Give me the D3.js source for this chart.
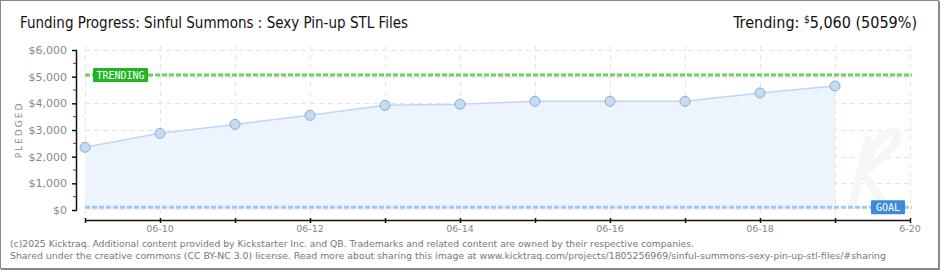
<!DOCTYPE html>
<html>
<head>
<meta charset="utf-8">
<script src="https://cdn.jsdelivr.net/npm/d3@7"></script>
<style>
  body { margin: 0; background: #fff; }
  svg { display: block; }
  .axis text { font-family: "DejaVu Sans", sans-serif; fill: #888; }
  .footer { font-family: "DejaVu Sans Condensed", "DejaVu Sans", sans-serif; font-size: 9.5px; fill: #777; }
</style>
</head>
<body>
<svg id="chart"></svg>
<script>
// data
const days = ["2025-06-09","2025-06-10","2025-06-11","2025-06-12","2025-06-13","2025-06-14",
              "2025-06-15","2025-06-16","2025-06-17","2025-06-18","2025-06-19"];
const pledged = [2350, 2875, 3210, 3550, 3925, 3965, 4075, 4075, 4075, 4390, 4650];
const trending = 5060;
const goal = 100;
const yTicks = [0, 1000, 2000, 3000, 4000, 5000, 6000];
const xTickLabels = ["06-10","06-12","06-14","06-16","06-18","6-20"];
const xTickDays = ["2025-06-10","2025-06-12","2025-06-14","2025-06-16","2025-06-18","2025-06-20"];

const W = 940, H = 270;
const parse = d3.timeParse("%Y-%m-%d");
const data = days.map((d, i) => ({date: parse(d), v: pledged[i]}));

const svg = d3.select("#chart").attr("width", W).attr("height", H);

// frame
svg.append("rect").attr("x", 0.5).attr("y", 0.5).attr("width", W - 2).attr("height", H - 2)
    .attr("fill", "#fff").attr("stroke", "#8a8a8a");
svg.append("line").attr("x1", W - 1).attr("x2", W - 1).attr("y1", 1).attr("y2", H).attr("stroke", "#8a8a8a").attr("stroke-width", 2);
svg.append("line").attr("x1", 1).attr("x2", W).attr("y1", H - 1).attr("y2", H - 1).attr("stroke", "#8a8a8a").attr("stroke-width", 2);

const x = d3.scaleTime()
    .domain([parse("2025-06-09"), parse("2025-06-20")])
    .range([85, 910]);
const y = d3.scaleLinear().domain([0, 6000]).range([210, 50]);

// grid
const allDays = d3.timeDay.range(parse("2025-06-09"), d3.timeDay.offset(parse("2025-06-20"), 1));
svg.append("g").selectAll("line").data(allDays).join("line")
    .attr("x1", d => x(d) + 0.5).attr("x2", d => x(d) + 0.5)
    .attr("y1", 46).attr("y2", 214)
    .attr("stroke", "#e4e4e4").attr("stroke-dasharray", "5,4");
svg.append("g").selectAll("line").data(yTicks.slice(1)).join("line")
    .attr("x1", 85).attr("x2", 912)
    .attr("y1", d => Math.round(y(d)) + 0.5).attr("y2", d => Math.round(y(d)) + 0.5)
    .attr("stroke", "#e4e4e4").attr("stroke-dasharray", "5,4");

// faint logo watermark (shape, not text)
svg.append("path")
    .attr("d", "M868,140 L852,205 M860,175 C880,160 905,140 895,132 C885,128 870,150 862,172 L885,205")
    .attr("fill", "none").attr("stroke", "#f6f6f6").attr("stroke-width", 8).attr("stroke-linecap", "round");

// area + line
svg.append("path").datum(data)
    .attr("d", d3.area().x(d => x(d.date)).y0(y(0)).y1(d => y(d.v)))
    .attr("fill", "#edf4fd");
svg.append("path").datum(data)
    .attr("d", d3.line().x(d => x(d.date)).y(d => y(d.v)))
    .attr("fill", "none").attr("stroke", "#bcd7f3").attr("stroke-width", 1.5);

// trending line
svg.append("line")
    .attr("x1", 85).attr("x2", 912)
    .attr("y1", y(trending)).attr("y2", y(trending))
    .attr("stroke", "#6fcf66").attr("stroke-width", 3).attr("stroke-dasharray", "5,2");
// goal line
svg.append("line")
    .attr("x1", 85).attr("x2", 912)
    .attr("y1", y(goal)).attr("y2", y(goal))
    .attr("stroke", "#a2c7ee").attr("stroke-width", 3).attr("stroke-dasharray", "5,2");

// points
svg.append("g").selectAll("circle").data(data).join("circle")
    .attr("cx", d => x(d.date)).attr("cy", d => y(d.v)).attr("r", 5)
    .attr("fill", "#c3dcf6").attr("stroke", "#92a9c6").attr("stroke-width", 1);

// labels on the lines
const tr = svg.append("g").attr("transform", `translate(93,${y(trending) - 7})`);
tr.append("rect").attr("width", 55).attr("height", 14).attr("rx", 1).attr("fill", "#1fb51f");
tr.append("text").attr("x", 27.5).attr("y", 10.5).attr("text-anchor", "middle")
    .attr("font-family", "DejaVu Sans Mono, monospace").attr("font-size", 10).attr("fill", "#fff")
    .text("TRENDING");
const gl = svg.append("g").attr("transform", `translate(871,${y(goal) - 7})`);
gl.append("rect").attr("width", 34).attr("height", 14).attr("rx", 1).attr("fill", "#3c8ad9");
gl.append("text").attr("x", 17).attr("y", 10.5).attr("text-anchor", "middle")
    .attr("font-family", "DejaVu Sans Mono, monospace").attr("font-size", 10).attr("fill", "#fff")
    .text("GOAL");

// y axis
const yAxis = svg.append("g").attr("class", "axis").attr("transform", "translate(76,0)")
    .call(d3.axisLeft(y).tickValues(yTicks).tickSize(4).tickPadding(5)
        .tickFormat(d => "$" + d3.format(",")(d)));
yAxis.select(".domain").attr("d", "M0.5,50V210").attr("stroke", "#111").attr("stroke-width", 1.5);
yAxis.selectAll(".tick line").attr("x2", -4).attr("x1", 1).attr("stroke", "#111").attr("stroke-width", 1.5);
yAxis.selectAll("text").attr("font-size", 11);
svg.append("g").attr("transform", "translate(76,0)")
    .selectAll("line").data(d3.range(500, 6000, 1000)).join("line")
    .attr("x1", -3).attr("x2", 0)
    .attr("y1", d => y(d)).attr("y2", d => y(d))
    .attr("stroke", "#e00").attr("stroke-width", 1);

// x axis
const xAxis = svg.append("g").attr("class", "axis").attr("transform", "translate(0,220)")
    .call(d3.axisBottom(x).tickValues(allDays).tickSize(3).tickFormat(""));
xAxis.select(".domain").attr("d", "M85,0.5H910").attr("stroke", "#111").attr("stroke-width", 1.5);
xAxis.selectAll(".tick line").attr("y1", -2).attr("y2", 3).attr("stroke", "#111").attr("stroke-width", 1.5);
svg.append("g").selectAll("text").data(xTickDays).join("text")
    .attr("x", d => x(parse(d))).attr("y", 232)
    .attr("text-anchor", "middle")
    .attr("font-family", "DejaVu Sans, sans-serif").attr("font-size", 9.5).attr("fill", "#888")
    .text((d, i) => xTickLabels[i]);

// y axis title
svg.append("text")
    .attr("transform", "translate(22,130) rotate(-90)")
    .attr("text-anchor", "middle")
    .attr("font-family", "DejaVu Sans, sans-serif").attr("font-size", 9).attr("fill", "#888")
    .attr("letter-spacing", 2)
    .text("PLEDGED");

// titles
svg.append("text").attr("x", 20).attr("y", 28)
    .attr("font-family", "Liberation Sans Narrow, DejaVu Sans Condensed, sans-serif")
    .attr("font-size", 16).attr("fill", "#111")
    .attr("textLength", 388).attr("lengthAdjust", "spacingAndGlyphs")
    .text("Funding Progress: Sinful Summons : Sexy Pin-up STL Files");
const tt = svg.append("text").attr("x", 917).attr("y", 28).attr("text-anchor", "end")
    .attr("font-family", "Liberation Sans Narrow, DejaVu Sans Condensed, sans-serif")
    .attr("font-size", 16).attr("fill", "#111");
tt.append("tspan").text("Trending:  ");
tt.append("tspan").attr("font-size", 10).attr("dy", -5).text("$");
tt.append("tspan").attr("dy", 5).text("5,060 (5059%)");

// footer
svg.append("text").attr("class", "footer").attr("x", 10).attr("y", 247)
    .attr("textLength", 684).attr("lengthAdjust", "spacingAndGlyphs")
    .text("(c)2025 Kicktraq. Additional content provided by Kickstarter Inc. and QB. Trademarks and related content are owned by their respective companies.");
svg.append("text").attr("class", "footer").attr("x", 10).attr("y", 259)
    .attr("textLength", 876).attr("lengthAdjust", "spacingAndGlyphs")
    .text("Shared under the creative commons (CC BY-NC 3.0) license. Read more about sharing this image at www.kicktraq.com/projects/1805256969/sinful-summons-sexy-pin-up-stl-files/#sharing");
</script>
</body>
</html>
